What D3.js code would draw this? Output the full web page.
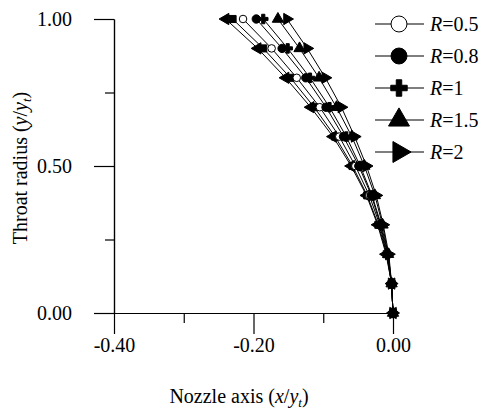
<!DOCTYPE html>
<html>
<head>
<meta charset="utf-8">
<script src="https://cdn.jsdelivr.net/npm/d3@7"></script>
<style>
  body { margin: 0; background: #fff; }
  svg text { font-family: "Liberation Serif", "DejaVu Serif", "Noto Serif", Tinos, "Nimbus Roman", FreeSerif, "Times New Roman", Times, serif !important; }
</style>
</head>
<body>
<svg id="chart" width="489" height="412"></svg>
<script>
// ---- data ----
const yLevels = [0, 0.1, 0.2, 0.3, 0.4, 0.5, 0.6, 0.7, 0.8, 0.9, 1.0];
const seriesLeftTri = [0, -0.002, -0.010, -0.022, -0.038, -0.060, -0.086, -0.118, -0.154, -0.194, -0.240];
const seriesSquare  = [0, -0.002, -0.009, -0.021, -0.037, -0.058, -0.083, -0.113, -0.147, -0.186, -0.230];
const seriesR05     = [0, -0.002, -0.009, -0.019, -0.034, -0.054, -0.077, -0.105, -0.138, -0.174, -0.215];
const seriesR08     = [0, -0.002, -0.008, -0.018, -0.031, -0.049, -0.071, -0.096, -0.125, -0.159, -0.196];
const seriesR1      = [0, -0.002, -0.007, -0.017, -0.030, -0.047, -0.067, -0.091, -0.119, -0.151, -0.186];
const seriesR15     = [0, -0.002, -0.007, -0.015, -0.026, -0.041, -0.059, -0.081, -0.106, -0.134, -0.165];
const seriesR2      = [0, -0.002, -0.006, -0.014, -0.024, -0.038, -0.055, -0.074, -0.097, -0.123, -0.152];
const legendLabels = ["0.5", "0.8", "1", "1.5", "2"];
const xMajorTicks = [-0.4, -0.2, 0];
const xMinorTicks = [-0.3, -0.1];
const yMajorTicks = [0, 0.5, 1];
const yMinorTicks = [0.25, 0.75];

// ---- setup ----
const svg = d3.select("#chart");
const x = d3.scaleLinear().domain([-0.4, 0]).range([114, 393]);
const y = d3.scaleLinear().domain([0, 1]).range([313, 19]);

const shapes = {
  ltri: (s) => ({ path: d3.symbol().type(d3.symbolTriangle).size(s)(), rot: -90, fill: "#000" }),
  square: (s) => ({ path: d3.symbol().type(d3.symbolSquare).size(s)(), rot: 0, fill: "#000" }),
  ocircle: (s) => ({ path: d3.symbol().type(d3.symbolCircle).size(s)(), rot: 0, fill: "#fff" }),
  fcircle: (s) => ({ path: d3.symbol().type(d3.symbolCircle).size(s)(), rot: 0, fill: "#000" }),
  plus: (s) => ({ path: d3.symbol().type(d3.symbolCross).size(s)(), rot: 0, fill: "#000" }),
  tri: (s) => ({ path: d3.symbol().type(d3.symbolTriangle).size(s)(), rot: 0, fill: "#000" }),
  rtri: (s) => ({ path: d3.symbol().type(d3.symbolTriangle).size(s)(), rot: 90, fill: "#000" })
};

const series = [
  { vals: seriesLeftTri, shape: "ltri", size: 55 },
  { vals: seriesSquare, shape: "square", size: 50 },
  { vals: seriesR05, shape: "ocircle", size: 45 },
  { vals: seriesR08, shape: "fcircle", size: 55 },
  { vals: seriesR1, shape: "plus", size: 50 },
  { vals: seriesR15, shape: "tri", size: 55 },
  { vals: seriesR2, shape: "rtri", size: 55 }
];

// ---- axes ----
const yAxisMajor = d3.axisLeft(y).tickValues(yMajorTicks).tickFormat(d3.format(".2f"))
  .tickSize(20).tickSizeOuter(0).tickPadding(22);
const yAxisMinor = d3.axisLeft(y).tickValues(yMinorTicks).tickFormat("").tickSize(9).tickSizeOuter(0);
const xAxisMajor = d3.axisBottom(x).tickValues(xMajorTicks).tickFormat(d3.format(".2f"))
  .tickSize(21).tickSizeOuter(0).tickPadding(4);
const xAxisMinor = d3.axisBottom(x).tickValues(xMinorTicks).tickFormat("").tickSize(10).tickSizeOuter(0);

function styleAxis(g) {
  g.attr("font-family", null);
  g.selectAll("path.domain").attr("stroke", "#000").attr("stroke-width", 1.2);
  g.selectAll("line").attr("stroke", "#000").attr("stroke-width", 1.2);
  g.selectAll("text").attr("font-size", 20).attr("fill", "#000");
}
svg.append("g").attr("transform", "translate(114,0)").call(yAxisMajor).call(styleAxis);
svg.append("g").attr("transform", "translate(114,0)").call(yAxisMinor).call(styleAxis);
svg.append("g").attr("transform", "translate(0,313)").call(xAxisMajor).call(styleAxis);
svg.append("g").attr("transform", "translate(0,313)").call(xAxisMinor).call(styleAxis);
svg.selectAll("g.tick text").text(function() { return d3.select(this).text().replace("−", "-"); });

// ---- lines ----
const line = d3.line().x(d => x(d[0])).y(d => y(d[1]));
series.forEach(s => {
  const pts = s.vals.map((v, i) => [v, yLevels[i]]);
  svg.append("path").datum(pts).attr("d", line)
    .attr("fill", "none").attr("stroke", "#000").attr("stroke-width", 1);
});
// ---- markers ----
series.forEach(s => {
  const pts = s.vals.map((v, i) => [v, yLevels[i]]);
  const sh = shapes[s.shape](s.size);
  svg.append("g").selectAll("path").data(pts).join("path")
    .attr("d", sh.path)
    .attr("transform", d => `translate(${x(d[0])},${y(d[1])}) rotate(${sh.rot})`)
    .attr("fill", sh.fill).attr("stroke", "#000").attr("stroke-width", 1);
});

// ---- legend ----
const legendShapes = ["ocircle", "fcircle", "plus", "tri", "rtri"];
const legendSizes = [200, 200, 150, 190, 190];
const legendY = [24, 56, 88, 120, 152];
const lg = svg.append("g");
legendLabels.forEach((lab, i) => {
  const yy = legendY[i];
  lg.append("line").attr("x1", 375).attr("x2", 424).attr("y1", yy).attr("y2", yy)
    .attr("stroke", "#000").attr("stroke-width", 1.2);
  const sh = shapes[legendShapes[i]](legendSizes[i]);
  lg.append("path").attr("d", sh.path)
    .attr("transform", `translate(399,${yy}) rotate(${sh.rot})`)
    .attr("fill", sh.fill).attr("stroke", "#000").attr("stroke-width", 1);
  const t = lg.append("text").attr("x", 430).attr("y", yy + 7).attr("font-size", 20);
  t.append("tspan").attr("font-style", "italic").text("R");
  t.append("tspan").text("=" + lab);
});

// ---- axis titles ----
const xt = svg.append("text").attr("x", 239).attr("y", 403).attr("text-anchor", "middle").attr("font-size", 20);
xt.append("tspan").text("Nozzle axis (");
xt.append("tspan").attr("font-style", "italic").text("x");
xt.append("tspan").text("/");
xt.append("tspan").attr("font-style", "italic").text("y");
xt.append("tspan").attr("font-style", "italic").attr("font-size", 13).attr("dy", 4).text("t");
xt.append("tspan").attr("dy", -4).text(")");

const yt = svg.append("text").attr("transform", "translate(27,168) rotate(-90)")
  .attr("text-anchor", "middle").attr("font-size", 20);
yt.append("tspan").text("Throat radius (");
yt.append("tspan").attr("font-style", "italic").text("y");
yt.append("tspan").text("/");
yt.append("tspan").attr("font-style", "italic").text("y");
yt.append("tspan").attr("font-style", "italic").attr("font-size", 13).attr("dy", 4).text("t");
yt.append("tspan").attr("dy", -4).text(")");
</script>
</body>
</html>
